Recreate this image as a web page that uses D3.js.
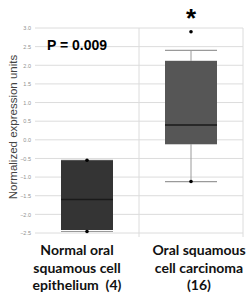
<!DOCTYPE html>
<html>
<head>
<meta charset="utf-8">
<script src="https://cdn.jsdelivr.net/npm/d3@7"></script>
<style>
  body { margin: 0; background: #fff; }
  svg { display: block; }
</style>
</head>
<body>
<div id="plot"></div>
<script>
// chart data
const groups = ["normal", "oscc"];
const groupLabels = [
  ["Normal oral", "squamous cell", "epithelium  (4)"],
  ["Oral squamous", "cell carcinoma", "(16)"]
];
const q1 = [-2.42, -0.12];
const medians = [-1.6, 0.4];
const q3 = [-0.55, 2.12];
const whiskerLow = [-2.46, -1.12];
const whiskerHigh = [-0.55, 2.4];
const points = [[-0.55, -2.46], [2.9, -1.12]];
const yTicks = [3.0, 2.5, 2.0, 1.5, 1.0, 0.5, 0.0, -0.5, -1.0, -1.5, -2.0, -2.5];
const boxColors = ["#343434", "#565656"];

const w = 246;
const h = 297;

const svg = d3.select("div#plot")
  .append("svg")
    .attr("width", w)
    .attr("height", h);

const xScale = d3.scaleBand()
  .domain(groups)
  .range([35, 243]);

const labelScale = d3.scalePoint()
  .domain(groups)
  .range([77, 199]);

const yScale = d3.scaleLinear()
  .domain([-2.5, 3.0])
  .range([233, 28]);

// grid
svg.append("g")
  .selectAll("line")
  .data(yTicks)
  .enter()
  .append("line")
    .attr("x1", 35)
    .attr("x2", 243)
    .attr("y1", d => yScale(d))
    .attr("y2", d => yScale(d))
    .attr("stroke", "#dcdcdc")
    .attr("stroke-width", 1);

svg.append("g")
  .selectAll("line")
  .data(groups.slice(1).concat(["end"]))
  .enter()
  .append("line")
    .attr("x1", d => d == "end" ? 243 : xScale(d))
    .attr("x2", d => d == "end" ? 243 : xScale(d))
    .attr("y1", 28)
    .attr("y2", 237)
    .attr("stroke", "#dcdcdc");

// y axis
const yAxis = d3.axisLeft(yScale)
  .tickValues(yTicks)
  .tickSize(0)
  .tickPadding(4)
  .tickFormat(d3.format(".1f"));

svg.append("g")
  .attr("transform", "translate(35,0)")
  .call(yAxis)
  .call(g => g.select(".domain").remove())
  .call(g => g.selectAll("text")
    .attr("fill", "#8f8f8f")
    .style("font-family", "Liberation Sans, Arial, sans-serif")
    .style("font-size", "5.5px"));

svg.append("text")
  .attr("transform", "rotate(-90)")
  .attr("x", -127)
  .attr("y", 17)
  .attr("text-anchor", "middle")
  .attr("fill", "#444")
  .style("font-family", "Liberation Sans, Arial, sans-serif")
  .style("font-size", "11.5px")
  .text("Normalized expression units");

// boxes
const boxW = xScale.bandwidth() * 0.5;
const cx = d => xScale(d) + xScale.bandwidth() / 2;

const box = svg.selectAll("g.box")
  .data(groups)
  .enter()
  .append("g")
    .attr("class", "box");

// whisker stems
box.append("line")
  .attr("x1", cx).attr("x2", cx)
  .attr("y1", (d, i) => yScale(whiskerHigh[i]))
  .attr("y2", (d, i) => yScale(q3[i]))
  .attr("stroke", "#9a9a9a");
box.append("line")
  .attr("x1", cx).attr("x2", cx)
  .attr("y1", (d, i) => yScale(q1[i]))
  .attr("y2", (d, i) => yScale(whiskerLow[i]))
  .attr("stroke", "#9a9a9a");

// caps
[whiskerHigh, whiskerLow].forEach(arr => {
  box.append("line")
    .attr("x1", d => cx(d) - boxW / 2)
    .attr("x2", d => cx(d) + boxW / 2)
    .attr("y1", (d, i) => yScale(arr[i]))
    .attr("y2", (d, i) => yScale(arr[i]))
    .attr("stroke", "#9a9a9a")
    .attr("stroke-width", 1.2);
});

box.append("rect")
  .attr("x", d => cx(d) - boxW / 2)
  .attr("width", boxW)
  .attr("y", (d, i) => yScale(q3[i]))
  .attr("height", (d, i) => yScale(q1[i]) - yScale(q3[i]))
  .attr("fill", (d, i) => boxColors[i]);

box.append("line")
  .attr("x1", d => cx(d) - boxW / 2)
  .attr("x2", d => cx(d) + boxW / 2)
  .attr("y1", (d, i) => yScale(medians[i]))
  .attr("y2", (d, i) => yScale(medians[i]))
  .attr("stroke", "#1a1a1a")
  .attr("stroke-width", 1.5);

box.each(function(d, i) {
  d3.select(this).selectAll("circle")
    .data(points[i])
    .enter()
    .append("circle")
      .attr("cx", cx(d))
      .attr("cy", v => yScale(v))
      .attr("r", 1.8)
      .attr("fill", "#000");
});

// annotations
svg.append("text")
  .attr("x", 47)
  .attr("y", 50)
  .attr("fill", "#000")
  .style("font-family", "Liberation Sans, Arial, sans-serif")
  .style("font-weight", "bold")
  .style("font-size", "14px")
  .text("P = 0.009");

svg.append("text")
  .attr("x", cx("oscc"))
  .attr("y", 27)
  .attr("text-anchor", "middle")
  .attr("fill", "#000")
  .style("font-family", "Liberation Sans, Arial, sans-serif")
  .style("font-weight", "bold")
  .style("font-size", "26px")
  .text("*");

// category labels
const lab = svg.selectAll("text.cat")
  .data(groups)
  .enter()
  .append("text")
    .attr("class", "cat")
    .attr("text-anchor", "middle")
    .attr("fill", "#111")
    .style("white-space", "pre")
    .style("font-family", "Lato, sans-serif")
    .style("font-weight", "bold")
    .style("font-size", "14px");

lab.selectAll("tspan")
  .data((d, i) => groupLabels[i].map(t => ({t: t, g: d})))
  .enter()
  .append("tspan")
    .attr("x", d => labelScale(d.g))
    .attr("y", (d, j) => 255 + j * 17.5)
    .text(d => d.t);
</script>
</body>
</html>
